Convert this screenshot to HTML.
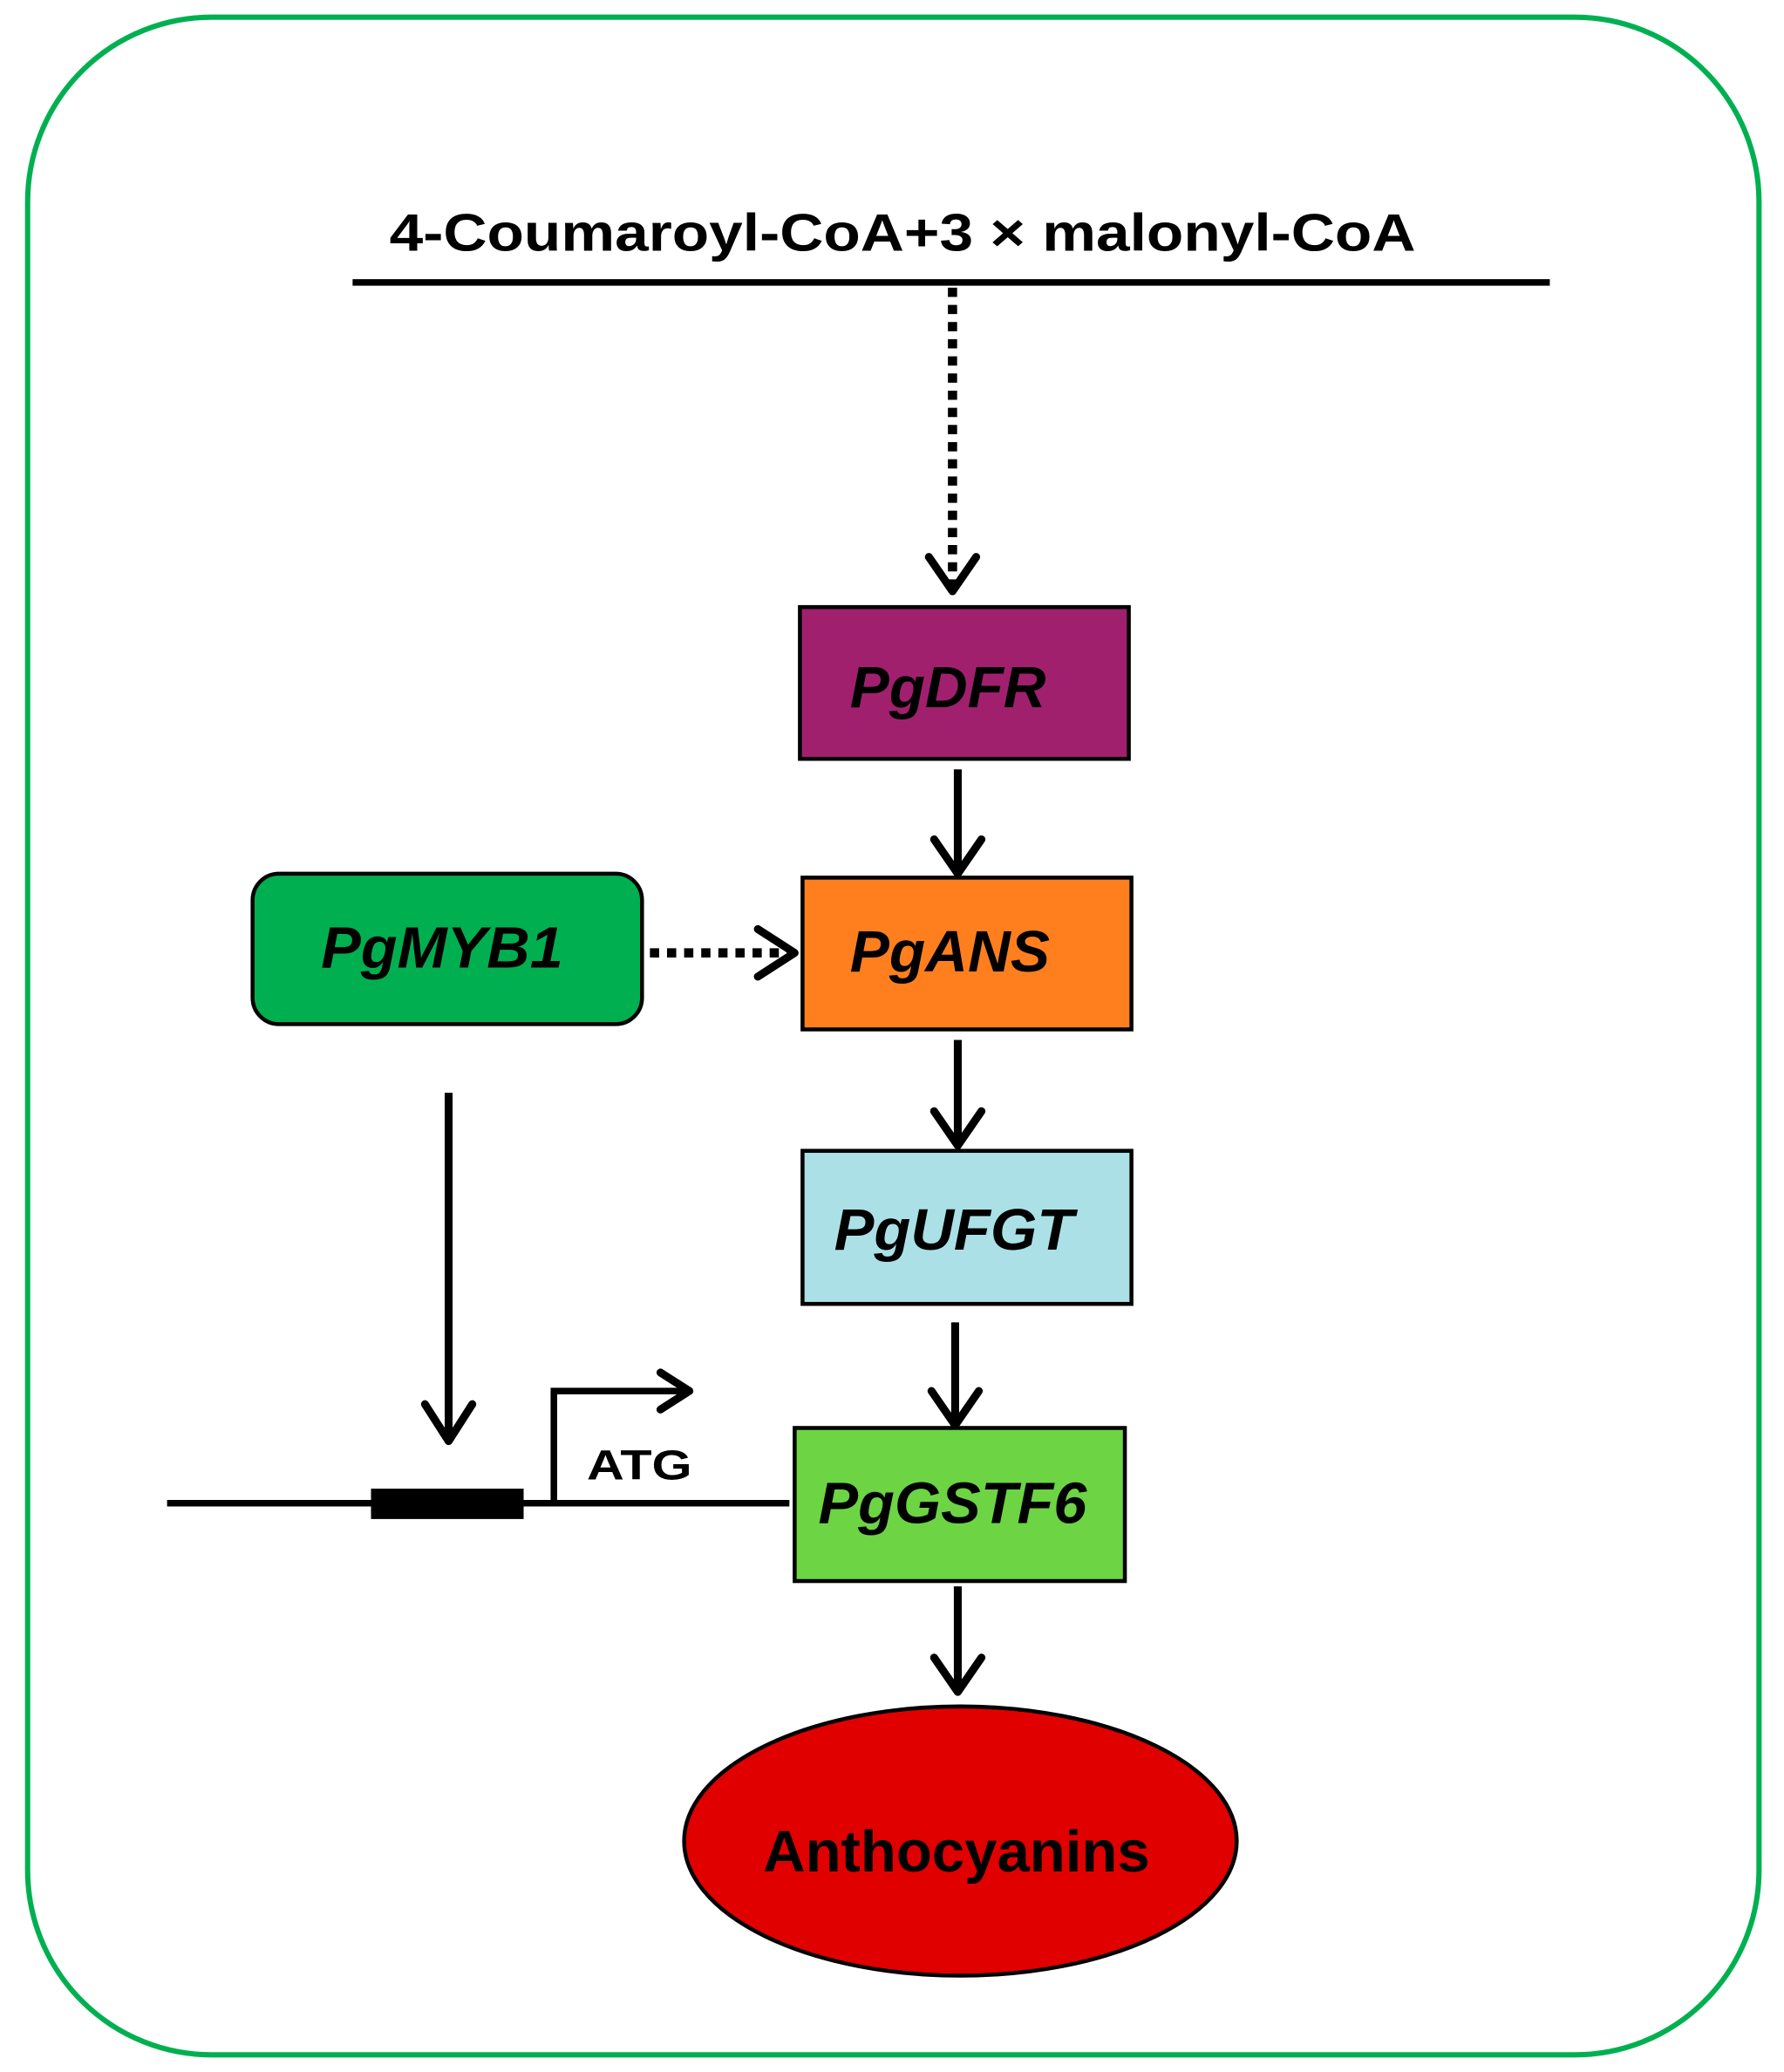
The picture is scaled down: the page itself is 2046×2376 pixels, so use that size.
<!DOCTYPE html>
<html><head><style>html,body{margin:0;padding:0;background:#fff}svg{display:block}</style></head>
<body>
<svg width="2046" height="2376" viewBox="0 0 1356 1570" preserveAspectRatio="none" xmlns="http://www.w3.org/2000/svg" font-family="Liberation Sans, Arial, sans-serif">
<rect x="21" y="13" width="1316" height="1544" rx="140" fill="#fff" stroke="#00b050" stroke-width="4"/>
<text x="296" y="190" font-size="40" font-weight="bold" textLength="780" lengthAdjust="spacingAndGlyphs">4-Coumaroyl-CoA+3 × malonyl-CoA</text>
<line x1="268" y1="214" x2="1178" y2="214" stroke="#000" stroke-width="5"/>
<g stroke="#000" stroke-width="6" fill="none" stroke-linecap="butt">
<line x1="724" y1="218" x2="724" y2="446" stroke-dasharray="7,6" stroke-width="7"/>
<polyline points="706,422 724,448 742,422" stroke-linecap="round" stroke-linejoin="round"/>
<line x1="728" y1="583" x2="728" y2="660"/>
<polyline points="710,636 728,662 746,636" stroke-linecap="round" stroke-linejoin="round"/>
<line x1="494" y1="722" x2="602" y2="722" stroke-dasharray="7,6" stroke-width="7"/>
<polyline points="576,704 604,722 576,740" stroke-linecap="round" stroke-linejoin="round"/>
<line x1="728" y1="788" x2="728" y2="866"/>
<polyline points="710,842 728,868 746,842" stroke-linecap="round" stroke-linejoin="round"/>
<line x1="726" y1="1002" x2="726" y2="1078"/>
<polyline points="708,1054 726,1080 744,1054" stroke-linecap="round" stroke-linejoin="round"/>
<line x1="728" y1="1202" x2="728" y2="1280"/>
<polyline points="710,1256 728,1282 746,1256" stroke-linecap="round" stroke-linejoin="round"/>
<line x1="341" y1="828" x2="341" y2="1090"/>
<polyline points="323,1064 341,1092 359,1064" stroke-linecap="round" stroke-linejoin="round"/>
<line x1="127" y1="1139" x2="600" y2="1139" stroke-width="5"/>
<polyline points="421,1139 421,1054 522,1054" stroke-width="5"/>
<polyline points="502,1040 524,1054 502,1068" stroke-linecap="round" stroke-linejoin="round"/>
</g>
<rect x="282" y="1128" width="116" height="23" fill="#000"/>
<text x="446" y="1121" font-size="32" font-weight="bold" textLength="80" lengthAdjust="spacingAndGlyphs">ATG</text>
<rect x="608" y="460" width="250" height="115" fill="#a0206e" stroke="#000" stroke-width="3"/>
<text x="646" y="536" font-size="44" font-style="italic" font-weight="bold" textLength="149" lengthAdjust="spacingAndGlyphs">PgDFR</text>
<rect x="610" y="665" width="250" height="115" fill="#ff7f1e" stroke="#000" stroke-width="3"/>
<text x="646" y="736" font-size="44" font-style="italic" font-weight="bold" textLength="152" lengthAdjust="spacingAndGlyphs">PgANS</text>
<rect x="192" y="662" width="296" height="114" rx="20" fill="#00b050" stroke="#000" stroke-width="3"/>
<text x="244" y="733" font-size="44" font-style="italic" font-weight="bold" textLength="184" lengthAdjust="spacingAndGlyphs">PgMYB1</text>
<rect x="610" y="872" width="250" height="116" fill="#abe1e6" stroke="#000" stroke-width="3"/>
<text x="634" y="947" font-size="44" font-style="italic" font-weight="bold" textLength="182" lengthAdjust="spacingAndGlyphs">PgUFGT</text>
<rect x="604" y="1082" width="251" height="116" fill="#6dd444" stroke="#000" stroke-width="3"/>
<text x="622" y="1154" font-size="44" font-style="italic" font-weight="bold" textLength="204" lengthAdjust="spacingAndGlyphs">PgGSTF6</text>
<ellipse cx="730" cy="1395" rx="210" ry="102" fill="#e00000" stroke="#000" stroke-width="3"/>
<text x="580" y="1418" font-size="44" font-weight="bold" textLength="294" lengthAdjust="spacingAndGlyphs">Anthocyanins</text>
</svg>
</body></html>
